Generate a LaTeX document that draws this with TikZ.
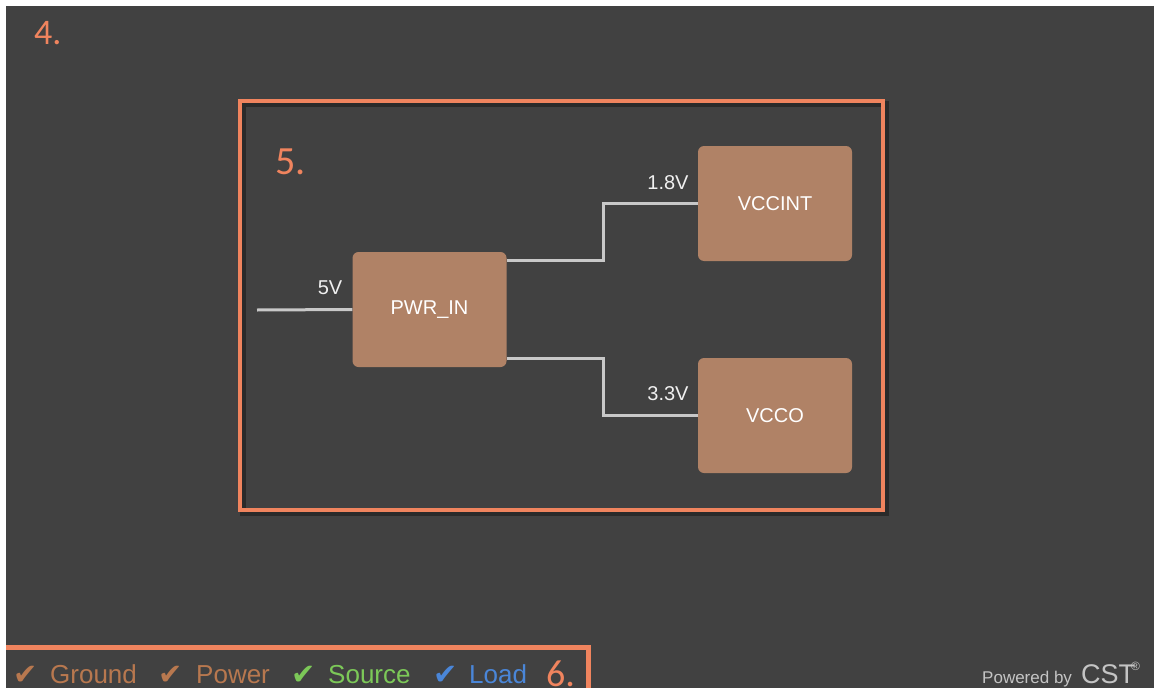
\documentclass[tikz,border=0pt]{standalone}
\usepackage{fontspec}
\setmainfont{Liberation Sans}
\newfontfamily\numfont{Carlito}
\newfontfamily\symfont{DejaVu Sans}
\definecolor{bg}{HTML}{414141}
\definecolor{accent}{HTML}{F0845E}
\definecolor{blockfill}{HTML}{B08266}
\definecolor{wire}{HTML}{C8C8C8}
\definecolor{brownleg}{HTML}{B8784F}
\definecolor{greenleg}{HTML}{7CC858}
\definecolor{blueleg}{HTML}{4A86D8}
\definecolor{credit}{HTML}{C4C4C4}
\begin{document}
\begin{tikzpicture}[x=1pt,y=-1pt,
  block/.style={draw=none, fill=blockfill, rounded corners=6pt, minimum width=154pt, minimum height=115pt, text=white, font=\fontsize{20}{24}\selectfont},
  wirestyle/.style={draw=wire, line width=3pt},
  volt/.style={text=white!94!black, font=\fontsize{20}{24}\selectfont, inner sep=0pt},
  frame/.style={draw=accent, line width=4.5pt},
  frameshadow/.style={draw=black, opacity=0.35, line width=6pt},
  num/.style={text=accent, font=\numfont\fontsize{40}{42}\selectfont, inner sep=0pt, anchor=base west, text depth=0pt},
  legend/.style={font=\fontsize{26}{30}\selectfont, inner sep=0pt, anchor=base west, text depth=0pt},
  tick/.style={font=\symfont\fontsize{29}{32}\selectfont, inner sep=0pt, anchor=base west, text depth=0pt},
  creditstyle/.style={text=credit, inner sep=0pt, anchor=base west, text depth=0pt}]
\useasboundingbox (0,0) rectangle (1154,688);
\clip (0,0) rectangle (1154,688);
\fill[bg] (0,0) rectangle (1154,688);

% frame 5
\draw[frameshadow] (243,104) rectangle (886,513);
\draw[frame] (240,101) rectangle (883,510);
\node[num] (n5) at (275,174) {5.};
\node[num, font=\numfont\fontsize{36}{38}\selectfont] (n4) at (34,44) {4.};

% blocks
\node[block] (pwr) at (429.5,309.5) {PWR\_IN};
\node[block] (vccint) at (775,203.5) {VCCINT};
\node[block] (vcco) at (775,415.5) {VCCO};

% wires
\coordinate (src) at (257,310);
\draw[wirestyle] (src) -- (pwr.west);
\draw[wirestyle] ([yshift=-9pt]pwr.north east) -- ++(97,0) |- (vccint.west);
\draw[wirestyle] ([yshift=9pt]pwr.south east) -- ++(97,0) |- (vcco.west);

% voltage labels
\node[volt] (l5) at (330,288) {5V};
\node[volt] (l18) at (668,183) {1.8V};
\node[volt] (l33) at (668,394) {3.3V};

% legend frame (top and right edges visible)
\draw[frame, line width=5pt] (0,647) -| (588,690);
\node[tick, text=brownleg] (t1) at (13,684) {✔};
\node[legend, text=brownleg] (g) at (50,683) {Ground};
\node[tick, text=brownleg] (t2) at (158,684) {✔};
\node[legend, text=brownleg] (p) at (196,683) {Power};
\node[tick, text=greenleg] (t3) at (291,684) {✔};
\node[legend, text=greenleg] (s) at (328,683) {Source};
\node[tick, text=blueleg] (t4) at (433,684) {✔};
\node[legend, text=blueleg] (l) at (469,683) {Load};
\node[num, font=\numfont\fontsize{38}{40}\selectfont] (n6) at (546,686) {6.};

% credit
\node[creditstyle, font=\fontsize{17}{20}\selectfont] (pb) at (982,683) {Powered by};
\node[creditstyle, font=\fontsize{27}{30}\selectfont] (cst) at (1081,683) {CST};
\node[creditstyle, font=\fontsize{12}{14}\selectfont] (reg) at (1131,670) {®};

% white margins
\fill[white] (0,0) rectangle (1154,6);
\fill[white] (0,0) rectangle (6,688);
\end{tikzpicture}
\end{document}
